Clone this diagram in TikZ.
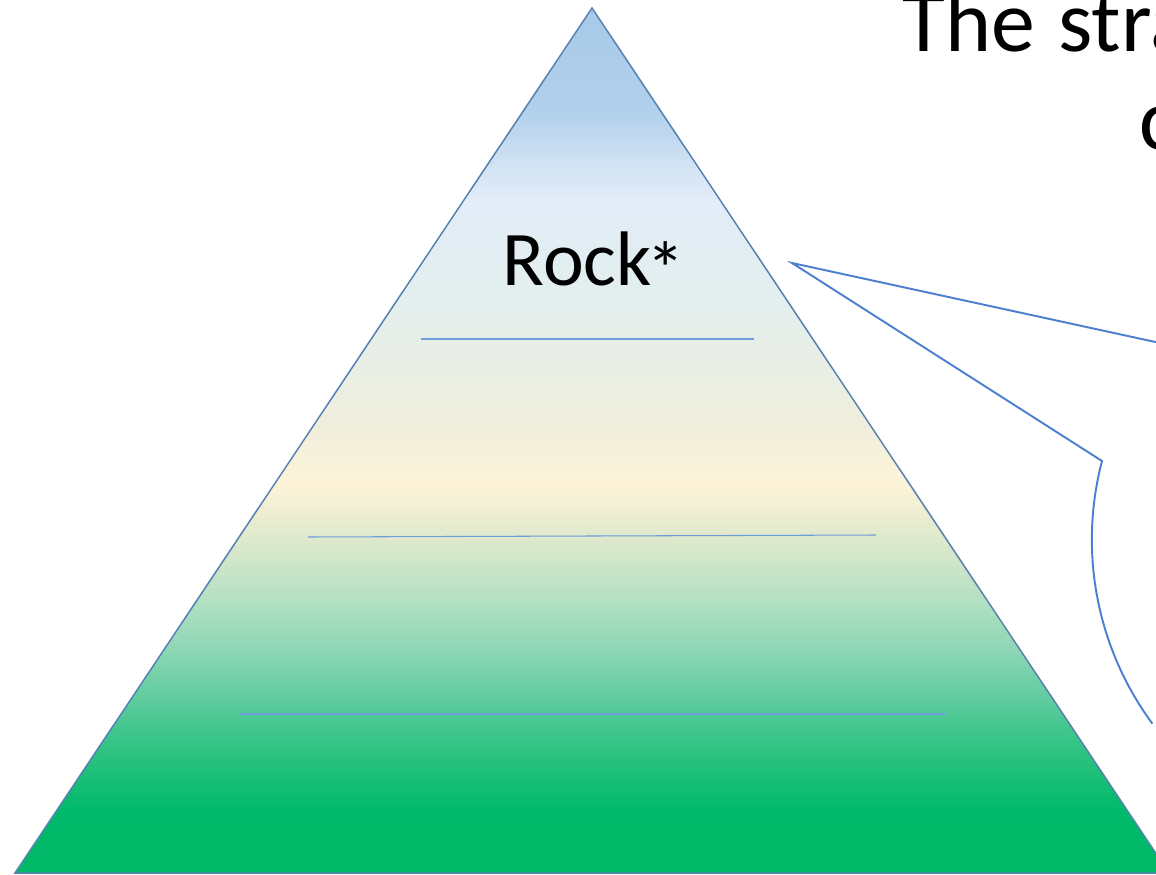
\documentclass[tikz,border=0pt]{standalone}
\usepackage{fontspec}
\setmainfont{Carlito}
\usetikzlibrary{positioning}

\definecolor{edgeblue}{HTML}{5681B0}
\definecolor{calloutblue}{HTML}{4D7FD1}
\definecolor{levelblue}{HTML}{6E9DDA}

\definecolor{pyrA}{HTML}{00B865}
\definecolor{pyrB}{HTML}{00B96A}
\definecolor{pyrC}{HTML}{2EC382}
\definecolor{pyrD}{HTML}{5ECB9E}
\definecolor{pyrE}{HTML}{8DD6B5}
\definecolor{pyrF}{HTML}{B4E0C3}
\definecolor{pyrG}{HTML}{DDE8CC}
\definecolor{pyrH}{HTML}{FDF3D8}
\definecolor{pyrI}{HTML}{EEEEDD}
\definecolor{pyrJ}{HTML}{E3EEEE}
\definecolor{pyrK}{HTML}{E2EDF8}
\definecolor{pyrL}{HTML}{CFE1F3}
\definecolor{pyrM}{HTML}{B1D0EC}
\definecolor{pyrN}{HTML}{A8CAE8}

\pgfdeclareverticalshading{pyramidfill}{100bp}{%
  color(0bp)=(pyrA); color(25bp)=(pyrA); color(28.6bp)=(pyrB);
  color(32.1bp)=(pyrC); color(35bp)=(pyrD); color(37.9bp)=(pyrE);
  color(40.8bp)=(pyrF); color(44.2bp)=(pyrG); color(47.4bp)=(pyrH);
  color(51.2bp)=(pyrI); color(58.1bp)=(pyrJ); color(63.9bp)=(pyrK);
  color(66.2bp)=(pyrL); color(69.1bp)=(pyrM); color(75bp)=(pyrN);
  color(100bp)=(pyrN)}

\tikzset{
  pyramid/.style={draw=edgeblue, line width=0.85pt, shading=pyramidfill, line join=miter},
  level/.style={draw=levelblue, line width=0.6pt},
  callout/.style={draw=calloutblue, line width=1.1pt, line join=miter},
  bigtext/.style={font=\fontsize{44}{52}\selectfont, inner sep=0pt, anchor=base},
  titletext/.style={font=\fontsize{50}{56}\selectfont, inner sep=0pt, anchor=base west}
}

\begin{document}
\begin{tikzpicture}[x=0.02cm, y=-0.02cm]
  \useasboundingbox (0,0) rectangle (1156,875);
  \clip (0,0) rectangle (1156,875);

  % Pyramid
  \coordinate (apex) at (592,8);
  \coordinate (baseL) at (15,873);
  \coordinate (baseR) at (1169,873);
  \path[pyramid] (apex) -- (baseL) -- (baseR) -- cycle;

  % Level lines
  \draw[level] (421,339) -- (754,339);
  \draw[level] (308,537) -- (876,535);
  \draw[level] (240,714) -- (945,714);

  % Label
  \node[bigtext] (rock) at (594,285) {Rock\kern-0.06em\raisebox{-0.15em}{*}};

  % Callout
  \coordinate (tip) at (792,263);
  \coordinate (upper) at (1160,343);
  \coordinate (lower) at (1102,461);
  \draw[callout] (upper) -- (tip) -- (lower)
    arc[start angle=165.3, end angle=216.4, radius=6.2cm];

  % Title
  \node[titletext] (title) at (902,52) {The\kern0.04em\ stra};
  \node[titletext] (titleb) at (1139,150) {c};
\end{tikzpicture}
\end{document}
